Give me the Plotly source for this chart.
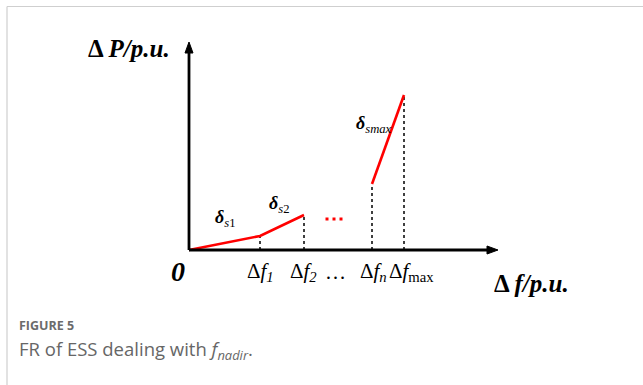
import plotly.graph_objects as go

# Frequency-response characteristic of the ESS (per-unit, schematic)
df_points = [0.0, 1.42, 2.30]          # 0, Δf1, Δf2
dp_points = [0.0, 0.28, 0.70]
df_high = [3.66, 4.30]                 # Δfn, Δfmax
dp_high = [1.32, 3.10]
dots_x = [2.76, 2.90, 3.04]            # "..." continuation marks
dots_y = [0.62, 0.62, 0.62]
tick_pos = [1.42, 2.28, 2.92, 3.68, 4.44]
tick_text = ["Δ<i>f</i><sub><i>1</i></sub>", "Δ<i>f</i><sub><i>2</i></sub>", "…",
             "Δ<i>f</i><sub><i>n</i></sub>", "Δ<i>f</i><sub>max</sub>"]
x_axis_end = 6.18
y_axis_end = 4.16

W, H = 643, 385
X0, Y0, S = 189, 250, 50.0   # origin pixel and pixels per unit

def px(x):
    return x / W

def py(y):
    return 1 - y / H

fig = go.Figure()

red = "#ff0000"
fig.add_trace(go.Scatter(x=df_points, y=dp_points, mode="lines",
                         line=dict(color=red, width=2.6), hoverinfo="skip"))
fig.add_trace(go.Scatter(x=df_high, y=dp_high, mode="lines",
                         line=dict(color=red, width=2.6), hoverinfo="skip"))
fig.add_trace(go.Scatter(x=dots_x, y=dots_y, mode="markers",
                         marker=dict(color=red, size=3, symbol="square"), hoverinfo="skip"))

shapes = []
# dotted drop lines from each breakpoint to the frequency axis
for xv, yv in zip(df_points[1:] + df_high, dp_points[1:] + dp_high):
    shapes.append(dict(type="line", xref="x", yref="y", x0=xv, x1=xv, y0=0, y1=yv,
                       line=dict(color="black", width=1.5, dash="dot"), layer="below"))

# axes with arrowheads
ah = 0.22   # arrowhead length (units)
aw = 0.08   # arrowhead half width
shapes.append(dict(type="line", xref="x", yref="y", x0=0, x1=x_axis_end - ah, y0=0, y1=0,
                   line=dict(color="black", width=2.8)))
shapes.append(dict(type="line", xref="x", yref="y", x0=0, x1=0, y0=0, y1=y_axis_end - ah,
                   line=dict(color="black", width=2.8)))
shapes.append(dict(type="path", xref="x", yref="y",
                   path=f"M {x_axis_end - ah},{aw} L {x_axis_end},0 L {x_axis_end - ah},{-aw} Z",
                   fillcolor="black", line=dict(color="black", width=1)))
shapes.append(dict(type="path", xref="x", yref="y",
                   path=f"M {-aw},{y_axis_end - ah} L 0,{y_axis_end} L {aw},{y_axis_end - ah} Z",
                   fillcolor="black", line=dict(color="black", width=1)))

# page frame
shapes.append(dict(type="line", xref="paper", yref="paper", x0=px(7), x1=1, y0=py(6.5), y1=py(6.5),
                   line=dict(color="#cfcfcf", width=1.2)))
shapes.append(dict(type="line", xref="paper", yref="paper", x0=px(7), x1=px(7), y0=py(6.5), y1=0,
                   line=dict(color="#cfcfcf", width=1.2)))

serif = "Liberation Serif"
ann = []

def label(x, y, text, size, ref="paper", color="black", family=serif,
          xanchor="center", yanchor="middle"):
    ann.append(dict(x=x, y=y, xref=ref, yref=ref, text=text, showarrow=False,
                    font=dict(family=family, size=size, color=color),
                    xanchor=xanchor, yanchor=yanchor, borderpad=0))

for t, txt in zip(tick_pos, tick_text):
    ann.append(dict(x=t, y=py(272), xref="x", yref="paper", text=txt, showarrow=False,
                    font=dict(family=serif, size=21, color="black"),
                    xanchor="center", yanchor="middle"))

label(px(178), py(271), "<b><i>0</i></b>", 28)
label(px(129), py(49), "<b>Δ <i>P/p.u.</i></b>", 25)
label(px(531), py(283), "<b>Δ <i>f/p.u.</i></b>", 25)
label(px(225), py(218), "<b><i>δ</i></b><sub><i>s</i>1</sub>", 18)
label(px(279), py(205), "<b><i>δ</i></b><sub><i>s</i>2</sub>", 18)
label(px(374), py(124), "<b><i>δ</i></b><sub><i>smax</i></sub>", 18)

sans = "Open Sans"
label(px(18), py(335), "<b>FIGURE 5</b>", 12.5, color="#6b6b6b", family=sans,
      xanchor="left", yanchor="bottom")
label(px(18), py(335), "FR of ESS dealing with <i>f</i><sub><i>nadir</i></sub>.", 18.5,
      color="#666666", family=sans, xanchor="left", yanchor="top")

fig.update_layout(
    width=W, height=H,
    margin=dict(l=0, r=0, t=0, b=0),
    paper_bgcolor="white", plot_bgcolor="white",
    showlegend=False,
    shapes=shapes, annotations=ann,
    xaxis=dict(range=[-X0 / S, (W - X0) / S], visible=False, fixedrange=True),
    yaxis=dict(range=[-(H - Y0) / S, Y0 / S], visible=False, fixedrange=True),
)

fig.write_html("out.html")
